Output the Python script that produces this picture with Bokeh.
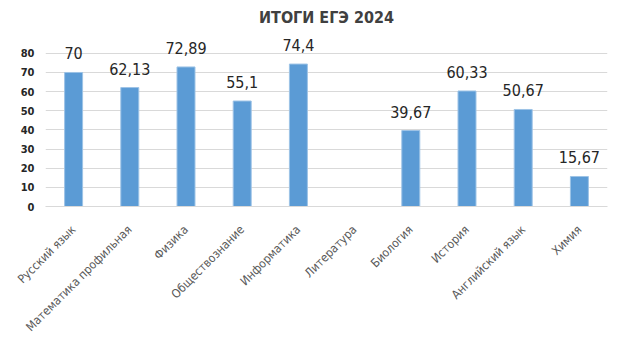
import math
from bokeh.plotting import figure
from bokeh.models import ColumnDataSource, FixedTicker, LabelSet
from bokeh.core.properties import value
from bokeh.embed import file_html
from bokeh.resources import INLINE

subjects = ["Русский язык", "Математика профильная", "Физика", "Обществознание",
            "Информатика", "Литература", "Биология", "История",
            "Английский язык", "Химия"]
scores = [70, 62.13, 72.89, 55.1, 74.4, float("nan"), 39.67, 60.33, 50.67, 15.67]
score_labels = ["70", "62,13", "72,89", "55,1", "74,4", "", "39,67", "60,33", "50,67", "15,67"]
y_ticks = [0, 10, 20, 30, 40, 50, 60, 70, 80]
title_text = "ИТОГИ ЕГЭ 2024"

src = ColumnDataSource(dict(subject=subjects, score=scores, label=score_labels))
lab_idx = [i for i, s in enumerate(score_labels) if s]
lab_src = ColumnDataSource(dict(subject=[subjects[i] for i in lab_idx],
                                score=[scores[i] for i in lab_idx],
                                label=[score_labels[i] for i in lab_idx]))

FONT = "DejaVu Sans Condensed"

p = figure(x_range=subjects, y_range=(0, 91.4), width=625, height=350,
           output_backend="svg", toolbar_location=None,
           min_border_left=45, min_border_right=18, min_border_top=29,
           min_border_bottom=144, background_fill_color="white",
           border_fill_color="white", outline_line_color=None)

p.title.text = title_text
p.title.align = "center"
p.title.text_font = FONT
p.title.text_font_size = "16px"
p.title.text_font_style = "bold"
p.title.text_color = "#404040"

p.vbar(x="subject", top="score", width=0.32, source=src,
       fill_color="#5b9bd5", line_color="#9dc3e6", line_width=1)

labels = LabelSet(x="subject", y="score", text="label", source=lab_src,
                  text_align="center", text_baseline="bottom", y_offset=13,
                  text_font=value(FONT), text_font_size="16px",
                  text_color="#262626")
p.add_layout(labels)

p.yaxis.ticker = FixedTicker(ticks=y_ticks)
p.yaxis.axis_line_color = None
p.yaxis.major_tick_line_color = None
p.yaxis.minor_tick_line_color = None
p.yaxis.major_label_text_font = FONT
p.yaxis.major_label_text_font_size = "11px"
p.yaxis.major_label_text_font_style = "bold"
p.yaxis.major_label_text_color = "#262626"
p.yaxis.major_label_standoff = 5

p.xaxis.axis_line_color = "#d9d9d9"
p.xaxis.major_tick_line_color = None
p.xaxis.minor_tick_line_color = None
p.xaxis.major_label_orientation = math.pi / 4
p.xaxis.major_label_text_font = FONT
p.xaxis.major_label_text_font_size = "12px"
p.xaxis.major_label_text_color = "#595959"
p.xaxis.major_label_standoff = 15

p.xgrid.grid_line_color = None
p.ygrid.grid_line_color = "#d9d9d9"
p.ygrid.ticker = FixedTicker(ticks=y_ticks)

open("out.html", "w").write(file_html(p, INLINE))
